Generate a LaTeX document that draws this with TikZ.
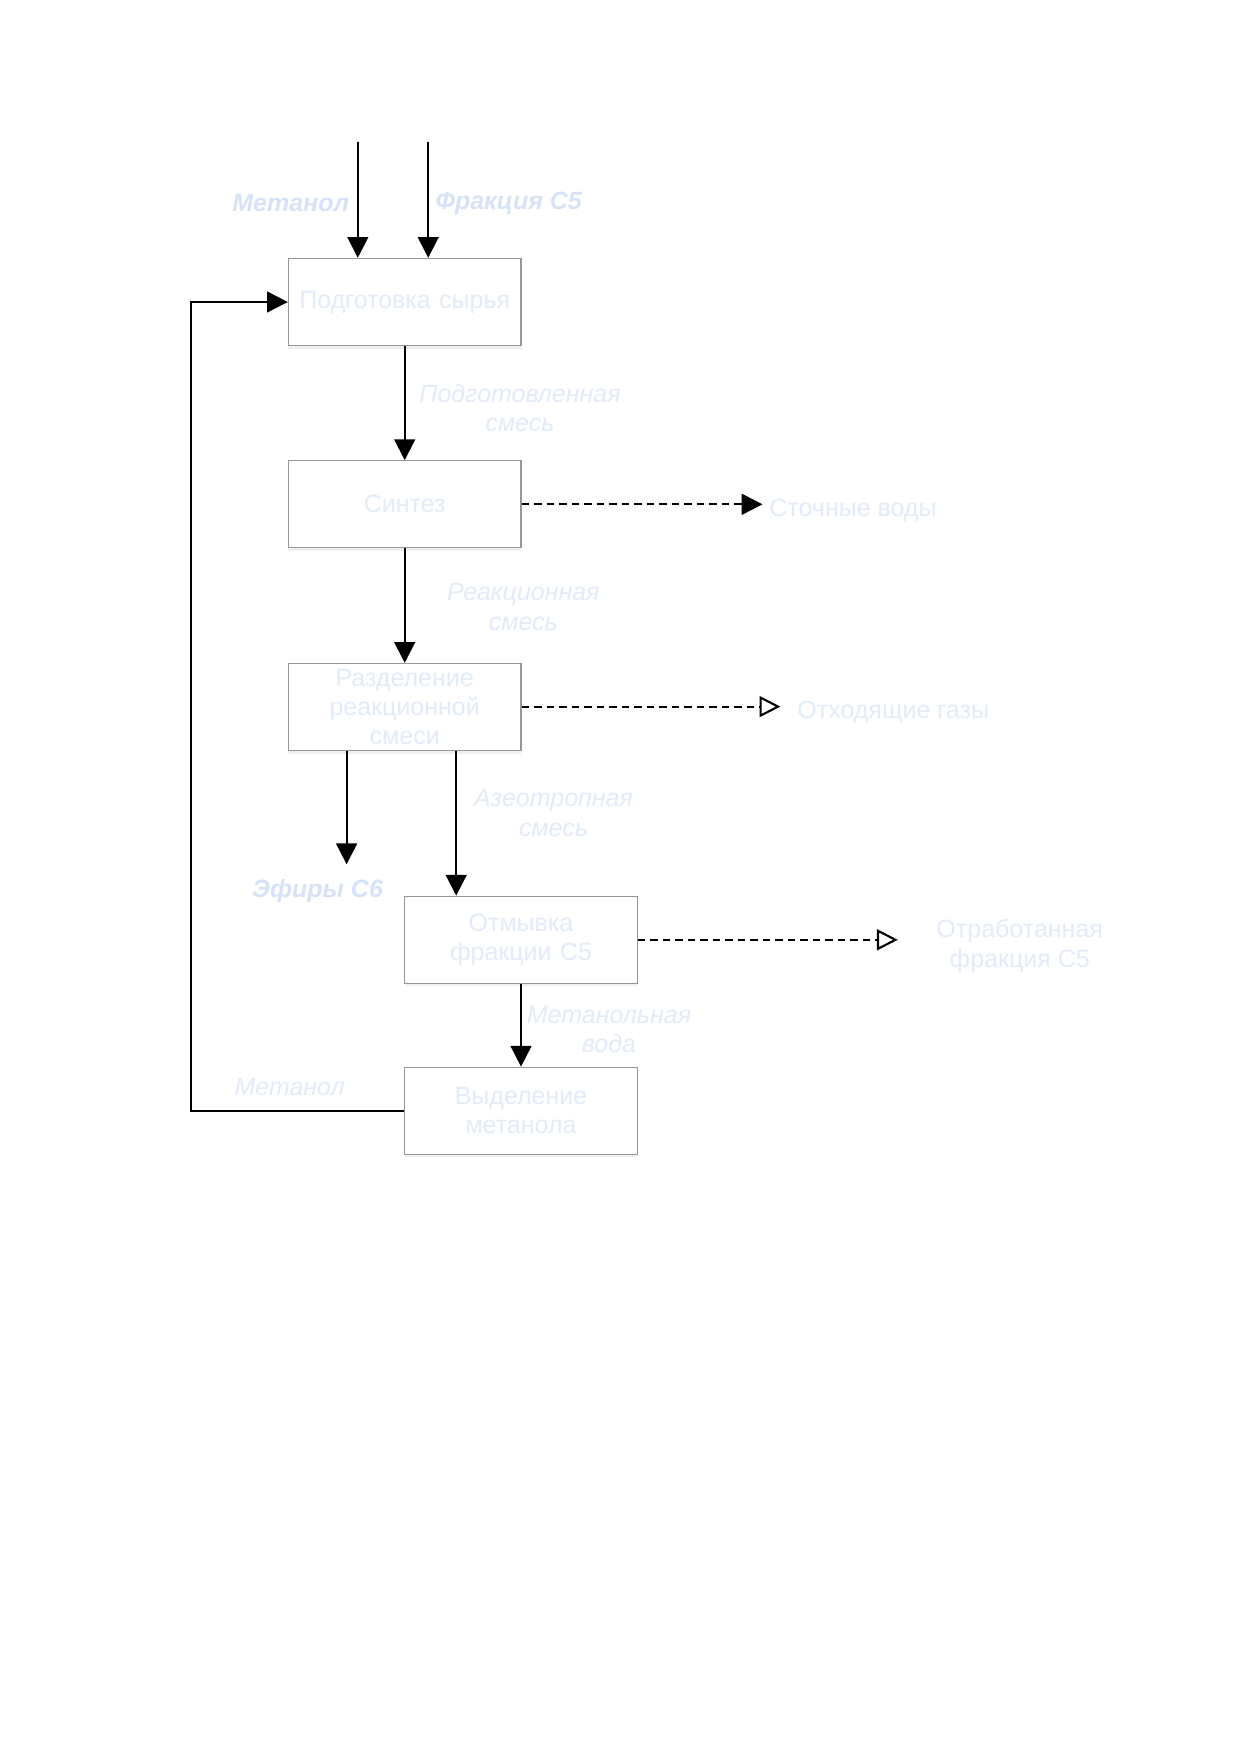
\documentclass[tikz,border=0pt]{standalone}
\usepackage{fontspec}
\setmainfont{Liberation Sans}
\usetikzlibrary{arrows.meta,shadows}
\definecolor{txt}{RGB}{226,235,248}
\definecolor{txtb}{RGB}{214,227,246}
\definecolor{boxline}{RGB}{150,150,150}
\tikzset{
  procbox/.style={draw=boxline, line width=0.6pt, fill=white,
    minimum width=111.6pt, minimum height=41.8pt, text width=104pt,
    align=center, inner sep=0pt, text=txt,
    font=\fontsize{12}{14}\selectfont,
    drop shadow={opacity=0.12, shadow xshift=0pt, shadow yshift=-1.5pt}},
  lbl/.style={text=txt, align=center, inner sep=0pt, font=\fontsize{12}{14}\selectfont\itshape},
  outlbl/.style={text=txt, align=center, inner sep=0pt, font=\fontsize{12}{14}\selectfont},
  boldlbl/.style={text=txtb, inner sep=0pt, font=\fontsize{12}{14}\selectfont\bfseries\itshape},
  flow/.style={line width=1pt, -{Triangle[length=10pt,width=10pt]}},
  waste/.style={line width=1pt, dash pattern=on 3.6pt off 2.4pt, -{Triangle[length=10pt,width=10pt]}},
  wasteopen/.style={line width=1pt, dash pattern=on 3.6pt off 2.4pt, -{Triangle[open,length=10pt,width=10pt,line width=1pt]}},
}
\begin{document}
\begin{tikzpicture}[x=0.48006pt, y=-0.48006pt]
\useasboundingbox[fill=white] (0,0) rectangle (1240,1754);

% boxes
\node[procbox] (b1) at (404.7,302) {Подготовка сырья};
\node[procbox] (b2) at (404.7,504.3) {Синтез};
\node[procbox] (b3) at (404.7,707) {Разделение\\реакционной\\смеси};
\node[procbox] (b4) at (521,939.8) {Отмывка\\фракции C5};
\node[procbox] (b5) at (521,1110.8) {Выделение\\метанола};

% inputs
\coordinate (in1) at (357.8,142);
\coordinate (in2) at (428.2,142);
\draw[flow] (in1) -- (in1 |- b1.north);
\draw[flow] (in2) -- (in2 |- b1.north);
\node[boldlbl] (lm) at (290.7,203.5) {Метанол};
\node[boldlbl] (lf) at (508.7,203.5) {Фракция C5};

% main flow
\draw[flow] (b1.south) -- (b2.north);
\node[lbl] (l12) at (520,408) {Подготовленная\\смесь};
\draw[flow] (b2.south) -- (b3.north);
\node[lbl] (l23) at (523.3,607) {Реакционная\\смесь};

% wastes
\coordinate (w1) at (762.5,504.3);
\draw[waste] (b2.east) -- (w1);
\node[outlbl, anchor=west] (lw1) at (769,510) {Сточные воды};
\coordinate (w2) at (780.4,706.6);
\draw[wasteopen] (b3.east |- w2) -- (w2);
\node[outlbl, anchor=west] (lw2) at (797,712.5) {Отходящие газы};
\coordinate (w3) at (897.8,939.8);
\draw[wasteopen] (b4.east) -- (w3);
\node[outlbl] (lw3) at (1019.7,946) {Отработанная\\фракция C5};

% separation outputs
\coordinate (e6s) at (346.6,749);
\coordinate (e6) at (346.6,864.3);
\draw[flow] (e6s |- b3.south) -- (e6);
\node[boldlbl] (le6) at (317.5,891) {Эфиры C6};
\coordinate (azs) at (456.2,749);
\draw[flow] (azs |- b3.south) -- (azs |- b4.north);
\node[lbl] (laz) at (553.5,813) {Азеотропная\\смесь};

% washing to methanol recovery
\draw[flow] (b4.south) -- (b5.north);
\node[lbl] (lmw) at (609,1029.8) {Метанольная\\вода};

% recycle
\coordinate (loop) at (191.2,1110.8);
\draw[flow] (b5.west) -- (loop) |- (b1.west);
\node[lbl] (lrec) at (289.6,1086.8) {Метанол};
\end{tikzpicture}
\end{document}
